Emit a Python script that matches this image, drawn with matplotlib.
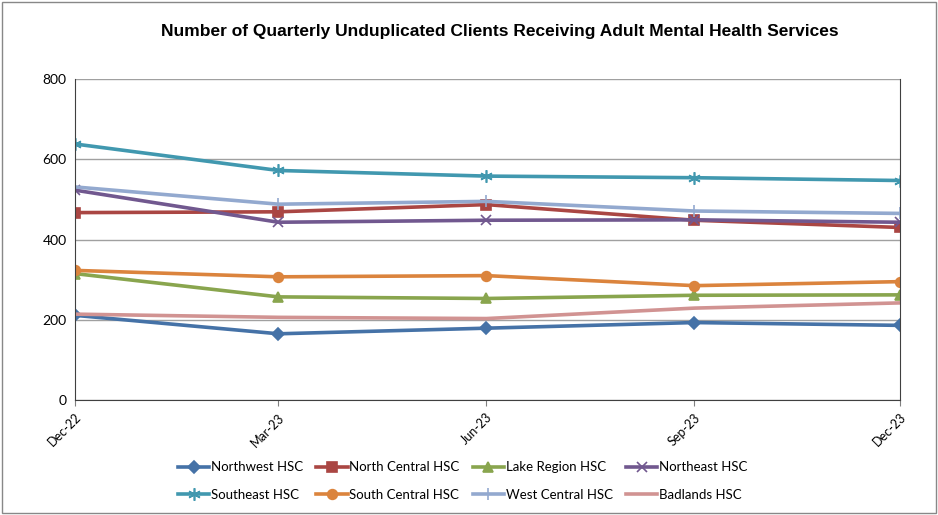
import matplotlib
matplotlib.use('Agg')
import matplotlib.pyplot as plt
import matplotlib.dates as mdates
from matplotlib.patches import Rectangle
import datetime as dt

# quarter end dates and tick labels
quarters = [dt.date(2022, 12, 1), dt.date(2023, 3, 1), dt.date(2023, 6, 1),
            dt.date(2023, 9, 1), dt.date(2023, 12, 1)]
tick_labels = ['Dec-22', 'Mar-23', 'Jun-23', 'Sep-23', 'Dec-23']

# clients per region
northwest = [211, 165, 179, 193, 186]
north_central = [467, 469, 487, 448, 430]
lake_region = [315, 257, 253, 261, 262]
northeast = [523, 443, 448, 449, 443]
southeast = [638, 572, 558, 554, 547]
south_central = [323, 307, 310, 285, 295]
west_central = [531, 488, 495, 471, 465]
badlands = [214, 206, 203, 229, 242]

series = [
    ('Northwest HSC', northwest, '#4572A7', 'D', 6),
    ('North Central HSC', north_central, '#AA4643', 's', 7),
    ('Lake Region HSC', lake_region, '#89A54E', '^', 7),
    ('Northeast HSC', northeast, '#71588F', 'x', 7),
    ('Southeast HSC', southeast, '#4198AF', (6, 2, 0), 9),
    ('South Central HSC', south_central, '#DB843D', 'o', 7),
    ('West Central HSC', west_central, '#93A9CF', '+', 9),
    ('Badlands HSC', badlands, '#D19392', None, 0),
]

fig = plt.figure(figsize=(9.38, 5.15), dpi=100)
ax = fig.add_axes([0.08, 0.2233, 0.8795, 0.6233])

handles = []
for name, vals, col, mk, ms in series:
    h, = ax.plot(quarters, vals, color=col, lw=2.6, marker=mk, markersize=ms,
                 markeredgewidth=1.2, label=name)
    handles.append(h)

ax.set_ylim(0, 800)
ax.set_yticks([0, 200, 400, 600, 800])
ax.set_xlim(quarters[0], quarters[-1])
ax.set_xticks(quarters)
ax.set_xticklabels(tick_labels, rotation=45, ha='right', rotation_mode='anchor',
                   fontsize=9, family='Lato')
for t in ax.get_yticklabels():
    t.set_fontsize(10)
    t.set_family('Lato')
ax.grid(axis='y', color='#a0a0a0', lw=1)
ax.set_axisbelow(True)
ax.spines['top'].set_visible(False)
for s in ['left', 'bottom', 'right']:
    ax.spines[s].set_color('#404040')
ax.tick_params(axis='y', length=0, pad=6)
ax.tick_params(axis='x', length=4, color='#808080', pad=4)

fig.text(0.533, 0.938, 'Number of Quarterly Unduplicated Clients Receiving Adult Mental Health Services',
         ha='center', va='center', fontsize=12.5, fontweight='bold', family='Liberation Sans')

order = [0, 4, 1, 5, 2, 6, 3, 7]
fig.legend([handles[i] for i in order], [series[i][0] for i in order],
           loc='center', bbox_to_anchor=(0.493, 0.066), ncol=4, frameon=False,
           prop={'family': 'Lato', 'size': 9.5}, handlelength=2.4,
           handletextpad=0.1, columnspacing=1.0, labelspacing=1.15)

fig.add_artist(Rectangle((0.002, 0.003), 0.996, 0.994, transform=fig.transFigure,
                         fill=False, edgecolor='#888888', lw=1))

fig.savefig('out.png', dpi=100)
